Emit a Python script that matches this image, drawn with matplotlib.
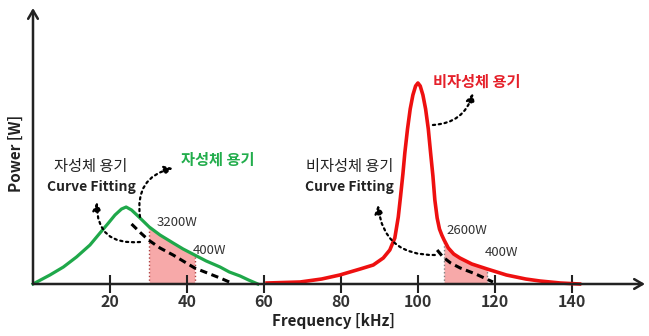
import numpy as np
import matplotlib
matplotlib.use("Agg")
import matplotlib.pyplot as plt

plt.rcParams['font.family'] = ['Noto Sans CJK KR', 'DejaVu Sans']

# 자성체 용기 (green) - frequency [kHz], power [a.u.]
green_f = [0, 4.4, 7.9, 11.3, 14.8, 17.4, 19.6, 21.3, 23, 24.2, 25.6, 27.8, 30.2, 33,
           36.4, 39, 42, 45, 48.6, 51, 53.8, 56, 58.4]
green_p = [0, 9, 17, 27, 39, 51, 61, 69, 75, 77, 74, 66, 57, 49,
           41, 35, 29, 23, 17, 12, 8, 4, 0]

# 자성체 용기 curve fitting (dashed)
gfit_f = [25.6, 28, 30, 33, 36.4, 42, 48.6, 51.6]
gfit_p = [60, 51, 44, 36, 29, 16, 6, 1]

# 비자성체 용기 (red)
red_f = [60.8, 69.4, 75, 79.7, 85, 88.4, 91, 92.7, 94, 94.9, 95.5, 96.1, 96.6, 97.3,
         98, 98.7, 99.4, 100, 100.6, 101.3, 102, 102.7, 103.3, 103.9, 104.4, 105,
         105.6, 106.2, 106.8, 107.9, 109.3, 110.9, 114, 118, 123, 128, 131.7, 137, 142]
red_p = [1, 2, 5, 9, 15, 19, 26, 34, 46, 67, 88, 110, 131, 155,
         175, 189, 198, 201, 198, 189, 175, 155, 131, 108, 84, 66,
         55, 49, 44, 36, 30, 26, 20, 15, 9, 5, 3, 1, 0]

# 비자성체 용기 curve fitting (dashed)
rfit_f = [105, 106.5, 108.5, 111, 115, 119.5]
rfit_p = [34, 27, 21, 16, 10, 2]

# shaded bands (kHz) and labels
green_band = [30.2, 42]
red_band = [106.8, 118]
band_labels = ["3200W", "400W", "2600W", "400W"]

xticks = [20, 40, 60, 80, 100, 120, 140]

W, H = 649, 336
fig = plt.figure(figsize=(W / 100, H / 100), dpi=100)
ax = fig.add_axes([33 / W, 52 / H, 612 / W, 276 / H])
ax.set_xlim(0, 159)
ax.set_ylim(0, 276)
for s in ax.spines.values():
    s.set_visible(False)

green = '#1fa84a'
red = '#ee1010'
fill_c = '#f7a9a9'

# shaded areas under curves
gf = np.array(green_f)
gp = np.array(green_p)
m = (gf >= green_band[0]) & (gf <= green_band[1])
ax.fill_between(gf[m], gp[m], 0, color=fill_c, lw=0, zorder=1)
ax.vlines(gf[m][[0, -1]], 0, gp[m][[0, -1]], colors='#b04040', linestyles=':', lw=1, zorder=2)

rf = np.array(red_f)
rp = np.array(red_p)
m = (rf >= red_band[0]) & (rf <= red_band[1])
ax.fill_between(rf[m], rp[m], 0, color=fill_c, lw=0, zorder=1)
ax.vlines(rf[m][[0, -1]], 0, rp[m][[0, -1]], colors='#808080', linestyles=':', lw=1, zorder=2)

# curves
ax.plot(green_f, green_p, color=green, lw=2.3, solid_joinstyle='round', zorder=3, clip_on=False)
ax.plot(red_f, red_p, color=red, lw=2.6, solid_joinstyle='round', zorder=3, clip_on=False)
ax.plot(gfit_f, gfit_p, color='black', lw=2.2, ls=(0, (2.4, 1.5)), zorder=4)
ax.plot(rfit_f, rfit_p, color='black', lw=2.2, ls=(0, (2.4, 1.5)), zorder=4)

# axis arrows
ax.annotate('', xy=(1, 0), xytext=(0, 0), xycoords='axes fraction',
            arrowprops=dict(arrowstyle='->,head_length=0.6,head_width=0.35', lw=1.8,
                            color='#222222', shrinkA=0, shrinkB=0))
ax.annotate('', xy=(0, 1), xytext=(0, 0), xycoords='axes fraction',
            arrowprops=dict(arrowstyle='->,head_length=0.6,head_width=0.35', lw=1.8,
                            color='#222222', shrinkA=0, shrinkB=0))

ax.set_xticks(xticks)
ax.set_xticklabels([str(t) for t in xticks], fontsize=11.5, fontweight='bold', color='#333333')
ax.tick_params(axis='x', direction='inout', length=13, width=1.5, color='#222222', pad=1)
ax.set_yticks([])

fig.text(16 / W, 1 - 153 / H, "Power [W]", rotation=90, ha='center', va='center',
         fontsize=11, fontweight='bold', color='#222222')
fig.text(333 / W, 1 - 321 / H, "Frequency [kHz]", ha='center', va='center',
         fontsize=11, fontweight='bold', color='#222222')

# curve names
ax.text(47.9, 124, "자성체 용기", color='#22ad4c', fontsize=11, fontweight='bold', ha='center', va='center')
ax.text(115.2, 202, "비자성체 용기", color='#e5202a', fontsize=11, fontweight='bold', ha='center', va='center')
ax.text(15.1, 117, "자성체 용기", color='#222222', fontsize=11, fontweight='medium', ha='center', va='center')
ax.text(15.1, 97, "Curve Fitting", color='#222222', fontsize=10, fontweight='bold', ha='center', va='center')
ax.text(82.3, 117, "비자성체 용기", color='#222222', fontsize=11, fontweight='medium', ha='center', va='center')
ax.text(82.3, 97, "Curve Fitting", color='#222222', fontsize=10, fontweight='bold', ha='center', va='center')

# power labels
ax.text(32.2, 61, band_labels[0], fontsize=9.5, color='#333333', va='center')
ax.text(41.6, 34, band_labels[1], fontsize=9.5, color='#333333', va='center')
ax.text(107.5, 54, band_labels[2], fontsize=9.5, color='#333333', va='center')
ax.text(117.4, 32, band_labels[3], fontsize=9.5, color='#333333', va='center')

# dotted curved arrows
def darrow(start, end, rad):
    ax.annotate('', xy=end, xytext=start,
                arrowprops=dict(arrowstyle='-|>,head_length=0.5,head_width=0.25',
                                linestyle=':', lw=1.6, color='black',
                                connectionstyle='arc3,rad=%s' % rad,
                                shrinkA=0, shrinkB=0))

darrow((27.8, 67), (36.4, 116), -0.45)
darrow((27.8, 42), (16.6, 82), -0.55)
darrow((103.9, 159), (114.3, 191), 0.35)
darrow((104.4, 29), (89.6, 79), -0.45)

fig.savefig("out.png", dpi=100)
